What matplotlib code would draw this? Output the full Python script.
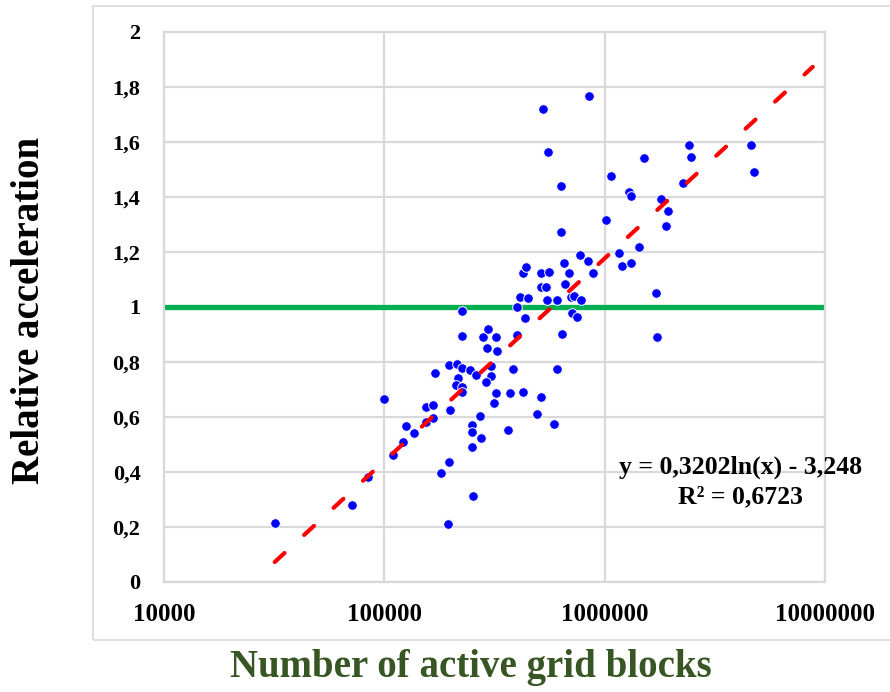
import numpy as np
import matplotlib
matplotlib.use("Agg")
import matplotlib.pyplot as plt
from matplotlib.patches import Rectangle

# grid blocks vs. relative acceleration
blocks = [31800, 71300, 84100, 99900, 109000, 122000, 125600, 136500, 154000, 155000,
          166000, 166000, 170000, 180000, 194000, 196000, 197000, 198000, 213000, 224000,
          224000, 225000, 215000, 212000, 225000, 226000, 245000, 260000, 271000, 251000,
          251000, 275000, 251000, 252000, 279000, 296000, 322000, 292000, 323000, 304000,
          304000, 288000, 322000, 316000, 366000, 371000, 384000, 402000, 399000, 412000,
          436000, 424000, 426000, 439000, 451000, 495000, 512000, 512000, 559000, 512000,
          540000, 549000, 589000, 606000, 643000, 609000, 655000, 689000, 661000, 701000,
          725000, 778000, 713000, 751000, 771000, 840000, 889000, 1160000, 1200000, 1312000,
          1431000, 1703000, 1733000, 849000, 525000, 551000, 634000, 634000, 1070000, 1011000,
          1289000, 1312000, 1515000, 1800000, 1944000, 1905000, 2264000, 2410000, 2472000,
          4600000, 4750000]
accel = [0.215, 0.279, 0.380, 0.663, 0.462, 0.507, 0.567, 0.542, 0.582, 0.636,
         0.643, 0.594, 0.758, 0.396, 0.210, 0.436, 0.788, 0.624, 0.792, 0.985,
         0.894, 0.778, 0.740, 0.715, 0.709, 0.691, 0.770, 0.752, 0.603, 0.569,
         0.546, 0.521, 0.491, 0.312, 0.889, 0.918, 0.889, 0.849, 0.839, 0.784,
         0.748, 0.727, 0.685, 0.651, 0.552, 0.687, 0.775, 0.897, 1.000, 1.036,
         0.960, 0.691, 1.121, 1.143, 1.031, 0.609, 0.673, 1.121, 1.127, 1.073,
         1.073, 1.024, 0.573, 0.775, 0.901, 1.024, 1.160, 1.124, 1.081, 1.036,
         1.040, 1.024, 0.978, 0.964, 1.188, 1.167, 1.121, 1.194, 1.148, 1.158,
         1.218, 1.049, 0.891, 1.767, 1.718, 1.561, 1.440, 1.273, 1.475, 1.314,
         1.416, 1.404, 1.541, 1.391, 1.349, 1.295, 1.451, 1.587, 1.545,
         1.587, 1.491]

# log trendline y = a*ln(x) + b
coef_a = 0.3202
coef_b = -3.248
r2 = 0.6723
trend_end = 8.8e6

yticks = [0, 0.2, 0.4, 0.6, 0.8, 1, 1.2, 1.4, 1.6, 1.8, 2]
xticks = [10000, 100000, 1000000, 10000000]

plt.rcParams['font.family'] = ['Liberation Serif', 'DejaVu Serif']
plt.rcParams['font.weight'] = 'bold'

W, H = 890, 692
fig = plt.figure(figsize=(W / 100, H / 100), dpi=100)

# chart area frame
fig.patches.append(Rectangle((93 / W, 1 - 640 / H), 1.0, (640 - 6) / H,
                             transform=fig.transFigure, fill=False,
                             edgecolor='#D9D9D9', lw=1.2))

ax = fig.add_axes([164 / W, 1 - 581.7 / H, (825 - 164) / W, (581.7 - 31.7) / H])
ax.set_xscale('log')
ax.set_xlim(1e4, 1e7)
ax.set_ylim(0, 2)

ax.set_yticks(yticks)
ax.set_yticklabels([f"{v:g}".replace('.', ',') for v in yticks], fontsize=16)
ax.set_xticks(xticks)
ax.set_xticklabels([str(v) for v in xticks], fontsize=18)
ax.minorticks_off()
ax.tick_params(axis='both', length=0)
ax.tick_params(axis='y', pad=17)
ax.tick_params(axis='x', pad=15)

ax.grid(True, color='#D9D9D9', lw=1.6, zorder=0)
for s in ax.spines.values():
    s.set_color('#D9D9D9')
    s.set_linewidth(1.6)

ax.axhline(1.0, color='#00B050', lw=3.8, zorder=2)

ax.scatter(blocks, accel, s=48, c='#0000FF', edgecolors='white', linewidths=0.7, zorder=3)

xs = np.geomspace(min(blocks), trend_end, 300)
ax.plot(xs, coef_a * np.log(xs) + coef_b, color='#FF0000', lw=3,
        dashes=(3.2, 6.4), dash_capstyle='round', zorder=4)

fig.text(741 / W, 1 - 467 / H, f"y = {coef_a:.4f}ln(x) - {abs(coef_b):.3f}".replace('.', ','),
         ha='center', va='center', fontsize=18.5)
fig.text(741 / W, 1 - 497 / H, f"R² = {r2:.4f}".replace('.', ','),
         ha='center', va='center', fontsize=18.5)

fig.text(30 / W, 1 - 310 / H, "Relative acceleration", rotation=90,
         ha='center', va='center', fontsize=28)
fig.text(471 / W, 1 - 667 / H, "Number of active grid blocks", color='#375623',
         ha='center', va='center', fontsize=28)

fig.savefig("out.png", dpi=100)
